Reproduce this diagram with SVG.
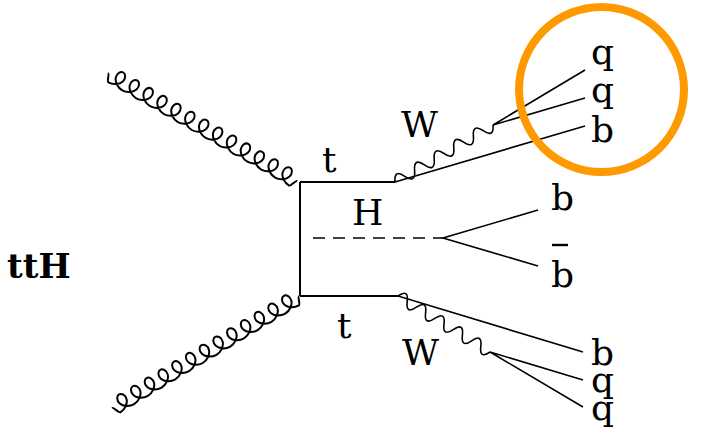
<svg xmlns="http://www.w3.org/2000/svg" width="702" height="433" viewBox="0 0 702 433">
<defs>
<style>
.ln{stroke:#000;stroke-width:1.6;fill:none}
.fr{stroke:#000;stroke-width:2;fill:none}
.gl{stroke:#000;stroke-width:2;fill:none}
.lbl{font-family:"DejaVu Serif","Liberation Serif",serif;font-size:36px;fill:#000}
.bold{font-family:"DejaVu Serif","Liberation Serif",serif;font-size:34px;font-weight:bold;fill:#000}
</style>
<path id="gluon" d="M0,0 c2,0 3,8 5,8 c5.522,0 10.667,-3.811 12,-8 c1.333,-4.189 -1.144,-8 -4,-8 c-2.856,0 -5.333,3.811 -4,8 c1.333,4.189 6.478,8 12,8 c5.522,0 10.667,-3.811 12,-8 c1.333,-4.189 -1.144,-8 -4,-8 c-2.856,0 -5.333,3.811 -4,8 c1.333,4.189 6.478,8 12,8 c5.522,0 10.667,-3.811 12,-8 c1.333,-4.189 -1.144,-8 -4,-8 c-2.856,0 -5.333,3.811 -4,8 c1.333,4.189 6.478,8 12,8 c5.522,0 10.667,-3.811 12,-8 c1.333,-4.189 -1.144,-8 -4,-8 c-2.856,0 -5.333,3.811 -4,8 c1.333,4.189 6.478,8 12,8 c5.522,0 10.667,-3.811 12,-8 c1.333,-4.189 -1.144,-8 -4,-8 c-2.856,0 -5.333,3.811 -4,8 c1.333,4.189 6.478,8 12,8 c5.522,0 10.667,-3.811 12,-8 c1.333,-4.189 -1.144,-8 -4,-8 c-2.856,0 -5.333,3.811 -4,8 c1.333,4.189 6.478,8 12,8 c5.522,0 10.667,-3.811 12,-8 c1.333,-4.189 -1.144,-8 -4,-8 c-2.856,0 -5.333,3.811 -4,8 c1.333,4.189 6.478,8 12,8 c5.522,0 10.667,-3.811 12,-8 c1.333,-4.189 -1.144,-8 -4,-8 c-2.856,0 -5.333,3.811 -4,8 c1.333,4.189 6.478,8 12,8 c5.522,0 10.667,-3.811 12,-8 c1.333,-4.189 -1.144,-8 -4,-8 c-2.856,0 -5.333,3.811 -4,8 c1.333,4.189 6.478,8 12,8 c5.522,0 10.667,-3.811 12,-8 c1.333,-4.189 -1.144,-8 -4,-8 c-2.856,0 -5.333,3.811 -4,8 c1.333,4.189 6.478,8 12,8 c5.522,0 10.667,-3.811 12,-8 c1.333,-4.189 -1.144,-8 -4,-8 c-2.856,0 -5.333,3.811 -4,8 c1.333,4.189 6.478,8 12,8 c5.522,0 10.667,-3.811 12,-8 c1.333,-4.189 -1.144,-8 -4,-8 c-2.856,0 -5.333,3.811 -4,8 c1.333,4.189 6.478,8 12,8 c5.522,0 10.667,-3.811 12,-8 c1.333,-4.189 -1.144,-8 -4,-8 c-2.856,0 -5.333,3.811 -4,8 c1.333,4.189 6.478,8 12,8 c2,0 3,-8 5,-8"/>
</defs>
<rect width="702" height="433" fill="#fff"/>
<g id="connectors">
  <use id="gluon-top" href="#gluon" class="gl" transform="translate(108,73) rotate(29.71)"/>
  <use id="gluon-bottom" href="#gluon" class="gl" transform="translate(112,408) rotate(-30.9)"/>
  <path id="top-quark-prop" class="fr" d="M300,182 V296"/>
  <path id="top-t" class="fr" d="M300,182 H395"/>
  <path id="bottom-t" class="fr" d="M300,296 H398"/>
  <path id="w-top" class="ln" transform="translate(395,182) rotate(-30.2)" d="M0,0 c3.74,-8 7.6,-8 11.34,0 c3.74,8 7.6,8 11.34,0 c3.74,-8 7.6,-8 11.34,0 c3.74,8 7.6,8 11.34,0 c3.74,-8 7.6,-8 11.34,0 c3.74,8 7.6,8 11.34,0 c3.74,-8 7.6,-8 11.34,0 c3.74,8 7.6,8 11.34,0 c3.74,-8 7.6,-8 11.34,0 c3.74,8 7.6,8 11.34,0"/>
  <path id="w-bottom" class="ln" transform="translate(398,296) rotate(31.33)" d="M0,0 c3.55,-8 7.22,-8 10.77,0 c3.55,8 7.22,8 10.77,0 c3.55,-8 7.22,-8 10.77,0 c3.55,8 7.22,8 10.77,0 c3.55,-8 7.22,-8 10.77,0 c3.55,8 7.22,8 10.77,0 c3.55,-8 7.22,-8 10.77,0 c3.55,8 7.22,8 10.77,0 c3.55,-8 7.22,-8 10.77,0 c3.55,8 7.22,8 10.77,0"/>
  <path id="b-top" class="ln" d="M395,182 L585,126"/>
  <path id="q-top" class="ln" d="M493,125 L585,70 M493,125 L585,98"/>
  <path id="higgs" class="ln" stroke-dasharray="12,8" d="M313,238 H443"/>
  <path id="h-bb" class="ln" d="M538,210 L443,238 L538,266"/>
  <path id="b-bottom" class="ln" d="M398,296 L583,352"/>
  <path id="q-bottom" class="ln" d="M490,352 L583,380 M490,352 L583,407"/>
</g>
<g id="labels">
  <g id="label-tth"><text class="bold" x="7" y="278">ttH</text></g>
  <g id="label-t-top"><text class="lbl" x="322" y="172">t</text></g>
  <g id="label-h"><text class="lbl" x="352" y="225">H</text></g>
  <g id="label-w-top"><text class="lbl" x="401" y="137">W</text></g>
  <g id="label-q1"><text class="lbl" x="591" y="64">q</text></g>
  <g id="label-q2"><text class="lbl" x="591" y="102">q</text></g>
  <g id="label-b-top"><text class="lbl" x="591" y="142">b</text></g>
  <g id="label-b-h"><text class="lbl" x="551" y="210">b</text></g>
  <g id="label-bbar-h"><line x1="552" y1="245" x2="568" y2="245" stroke="#000" stroke-width="2.4"/><text class="lbl" x="551" y="287">b</text></g>
  <g id="label-t-bottom"><text class="lbl" x="337" y="338">t</text></g>
  <g id="label-w-bottom"><text class="lbl" x="402" y="365">W</text></g>
  <g id="label-b-bottom"><text class="lbl" x="591" y="365">b</text></g>
  <g id="label-q3"><text class="lbl" x="591" y="392">q</text></g>
  <g id="label-q4"><text class="lbl" x="591" y="420">q</text></g>
</g>
<g id="highlight">
  <circle cx="601.5" cy="89.5" r="82.5" fill="none" stroke="#ff9900" stroke-width="8"/>
</g>
</svg>
